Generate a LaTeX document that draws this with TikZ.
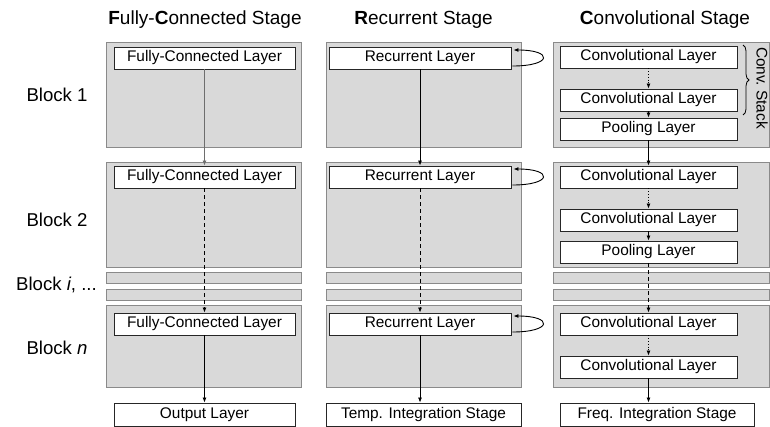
\documentclass[tikz,border=0pt]{standalone}
\usepackage{fontspec}
\setmainfont{Liberation Sans}
\usetikzlibrary{arrows.meta, decorations.pathreplacing}

\definecolor{blockfill}{HTML}{D9D9D9}
\definecolor{blockline}{HTML}{8A8A8A}
\definecolor{linkgray}{HTML}{6E6E6E}

\begin{document}
\begin{tikzpicture}[x=1pt, y=-1pt,
  blk/.style={draw=blockline, fill=blockfill, line width=0.8pt, inner sep=0pt},
  layer/.style={draw=black!85, fill=white, line width=0.9pt, inner sep=0pt,
    minimum height=22pt, font=\fontsize{15.4}{18}\selectfont},
  stagetitle/.style={font=\fontsize{19}{22}\selectfont},
  blocklabel/.style={font=\fontsize{18.6}{22}\selectfont},
  link/.style={line width=0.8pt, -{Latex[length=5pt,width=4pt]}},
  looplink/.style={line width=0.9pt, -{Latex[length=5pt,width=4pt]}},
]
\path[use as bounding box, fill=white] (0,0) rectangle (770,426);

% ---------- stage titles ----------
\node[stagetitle] (tfc)  at (205,20)   {\textbf{F}ully-\textbf{C}onnected Stage};
\node[stagetitle] (trec) at (423.5,20) {\textbf{R}ecurrent Stage};
\node[stagetitle] (tcnn) at (665,20)   {\textbf{C}onvolutional Stage};

% ---------- block labels ----------
\node[blocklabel] (l1) at (57,95)    {Block 1};
\node[blocklabel] (l2) at (57,220)   {Block 2};
\node[blocklabel] (li) at (56.5,285) {Block \textit{i}, ...};
\node[blocklabel] (ln) at (57,348)   {Block \textit{n}};

% ---------- grey block backgrounds ----------
% fully-connected column
\node[blk, minimum width=195pt, minimum height=105pt] (a1) at (203.5,95)    {};
\node[blk, minimum width=195pt, minimum height=105pt] (a2) at (203.5,214.5) {};
\node[blk, minimum width=195pt, minimum height=11pt]  (as1) at (203.5,277.5) {};
\node[blk, minimum width=195pt, minimum height=11pt]  (as2) at (203.5,294.5) {};
\node[blk, minimum width=195pt, minimum height=82pt]  (an) at (203.5,346)   {};
% recurrent column
\node[blk, minimum width=195pt, minimum height=105pt] (b1) at (423.5,95)    {};
\node[blk, minimum width=195pt, minimum height=105pt] (b2) at (423.5,214.5) {};
\node[blk, minimum width=195pt, minimum height=11pt]  (bs1) at (423.5,277.5) {};
\node[blk, minimum width=195pt, minimum height=11pt]  (bs2) at (423.5,294.5) {};
\node[blk, minimum width=195pt, minimum height=82pt]  (bn) at (423.5,346)   {};
% convolutional column
\node[blk, minimum width=216pt, minimum height=105pt] (c1) at (661,95)    {};
\node[blk, minimum width=216pt, minimum height=105pt] (c2) at (661,214.5) {};
\node[blk, minimum width=216pt, minimum height=11pt]  (cs1) at (661,277.5) {};
\node[blk, minimum width=216pt, minimum height=11pt]  (cs2) at (661,294.5) {};
\node[blk, minimum width=216pt, minimum height=82pt]  (cn) at (661,346)   {};

% ---------- fully-connected stage ----------
\node[layer, minimum width=181pt] (fc1) at (204.5,58)  {Fully-Connected Layer};
\node[layer, minimum width=181pt] (fc2) at (204.5,177) {Fully-Connected Layer};
\node[layer, minimum width=181pt] (fcn) at (204.5,324) {Fully-Connected Layer};
\node[layer, minimum width=181pt, minimum height=23pt] (out) at (204.5,414.5) {Output Layer};

\draw[link, draw=linkgray, -{Latex[length=5pt,width=4pt,fill=linkgray]}] (fc1.south) -- (fc2.north);
\draw[link, dashed, dash pattern=on 4pt off 3pt] (fc2.south) -- (fcn.north);
\draw[link] (fcn.south) -- (out.north);

% ---------- recurrent stage ----------
\node[layer, minimum width=182pt] (rec1) at (420,58)  {Recurrent Layer};
\node[layer, minimum width=182pt] (rec2) at (420,177) {Recurrent Layer};
\node[layer, minimum width=182pt] (recn) at (420,324) {Recurrent Layer};
\node[layer, minimum width=195pt, minimum height=23pt] (temp) at (423.5,414.5) {Temp. Integration Stage};

\draw[link] (rec1.south) -- (rec2.north);
\draw[link, dashed, dash pattern=on 4pt off 3pt] (rec2.south) -- (recn.north);
\draw[link] (recn.south) -- (recn.south |- temp.north);

\foreach \r in {rec1,rec2,recn}{
  \draw[looplink] ([xshift=1pt,yshift=-8pt]\r.east) .. controls +(40pt,0pt) and +(40pt,0pt) .. ([xshift=2pt,yshift=8pt]\r.east);
}

% ---------- convolutional stage ----------
\node[layer, minimum width=177pt] (cv11) at (648.5,57)  {Convolutional Layer};
\node[layer, minimum width=177pt] (cv12) at (648.5,100) {Convolutional Layer};
\node[layer, minimum width=177pt] (pl1)  at (648.5,129) {Pooling Layer};
\node[layer, minimum width=177pt] (cv21) at (648.5,177) {Convolutional Layer};
\node[layer, minimum width=177pt] (cv22) at (648.5,220) {Convolutional Layer};
\node[layer, minimum width=177pt] (pl2)  at (648.5,252) {Pooling Layer};
\node[layer, minimum width=177pt] (cvn1) at (648.5,324) {Convolutional Layer};
\node[layer, minimum width=177pt] (cvn2) at (648.5,367) {Convolutional Layer};
\node[layer, minimum width=194pt, minimum height=23pt] (freq) at (657,414.5) {Freq. Integration Stage};

\draw[link, dotted] (cv11.south) -- (cv12.north);
\draw[link] (cv12.south) -- (pl1.north);
\draw[link] (pl1.south) -- (cv21.north);
\draw[link, dotted] (cv21.south) -- (cv22.north);
\draw[link] (cv22.south) -- (pl2.north);
\draw[link, dashed, dash pattern=on 4pt off 3pt] (pl2.south) -- (cvn1.north);
\draw[link, dotted] (cvn1.south) -- (cvn2.north);
\draw[link] (cvn2.south) -- (cvn2.south |- freq.north);

% convolution stack brace and label
\coordinate (brtop) at (743,45);
\coordinate (brbot) at (743,115);
\draw[line width=0.8pt, decorate, decoration={brace, amplitude=6pt}] (brtop) -- (brbot);
\node[rotate=-90, font=\fontsize{15.4}{18}\selectfont] (stack) at (762,88) {Conv.\ Stack};
\end{tikzpicture}
\end{document}
